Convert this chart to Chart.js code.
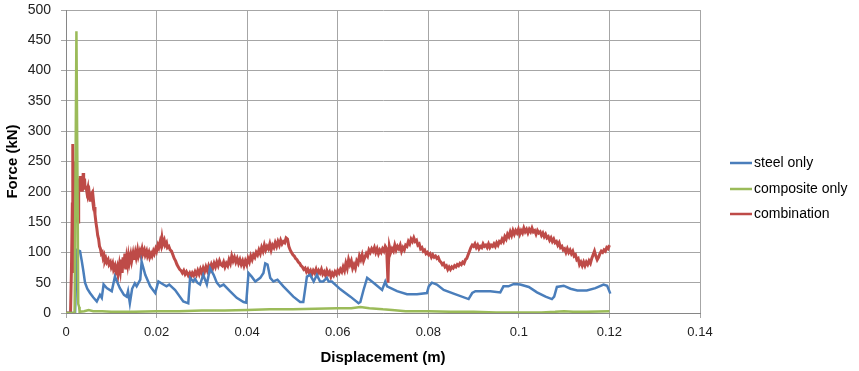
<!DOCTYPE html>
<html>
<head>
<meta charset="utf-8">
<script src="https://cdn.jsdelivr.net/npm/chart.js"></script>
<style>
  html, body { margin: 0; padding: 0; background: #fff; }
  #wrap { width: 859px; height: 371px; position: relative; }
</style>
</head>
<body>
<div id="wrap"><canvas id="mainChart"></canvas></div>
<script>
// axis ticks
const xTicks = [0, 0.02, 0.04, 0.06, 0.08, 0.1, 0.12, 0.14];
const yTicks = [0, 50, 100, 150, 200, 250, 300, 350, 400, 450, 500];

const seriesNames = ['steel only', 'composite only', 'combination'];
const seriesColors = ['#4a7ebb', '#9bbb59', '#be4b48'];

// [displacement (m), force (kN)]
const steelPts = [[0,0],[0.002,0],[0.0024,104],[0.0031,102],[0.0035,85],[0.0038,71],[0.0042,50],[0.0047,40],[0.0053,33],[0.006,26],[0.0068,19],[0.0075,30],[0.0079,25],[0.0083,47],[0.009,41],[0.0101,36],[0.0108,60],[0.0119,41],[0.0128,30],[0.0134,27],[0.0137,36],[0.0141,16],[0.0146,40],[0.0152,49],[0.0156,44],[0.0164,55],[0.0167,85],[0.0175,63],[0.0186,44],[0.0197,33],[0.0204,52],[0.0215,47],[0.0222,44],[0.0228,47],[0.0241,38],[0.0259,19],[0.027,16],[0.0274,58],[0.0281,52],[0.0285,56],[0.029,50],[0.0296,47],[0.0303,63],[0.0311,47],[0.0318,74],[0.0326,63],[0.0333,50],[0.034,44],[0.0348,47],[0.0362,36],[0.0377,25],[0.0392,18],[0.0398,17],[0.0403,66],[0.041,60],[0.0418,52],[0.0429,58],[0.0436,66],[0.044,82],[0.0445,80],[0.0451,58],[0.0458,52],[0.0467,55],[0.048,44],[0.0502,27],[0.0517,18],[0.0524,18],[0.0532,60],[0.0539,63],[0.0547,52],[0.0554,63],[0.0561,52],[0.0568,52],[0.0576,58],[0.058,52],[0.0587,52],[0.0606,39],[0.0628,27],[0.0646,16],[0.065,18],[0.0657,38],[0.0665,58],[0.0679,50],[0.0698,38],[0.0705,52],[0.0709,44],[0.0731,36],[0.0753,31],[0.0775,31],[0.0797,33],[0.0801,44],[0.0808,50],[0.0819,47],[0.0834,38],[0.0856,32],[0.0889,23],[0.0897,33],[0.0904,36],[0.0922,36],[0.0937,36],[0.0959,34],[0.0966,44],[0.0977,44],[0.0989,48],[0.1003,47],[0.1022,43],[0.104,34],[0.1059,27],[0.1073,23],[0.1078,27],[0.1084,43],[0.1099,45],[0.1114,40],[0.1129,37],[0.115,37],[0.1169,41],[0.1187,47],[0.1195,45],[0.1202,32]];

const compositePts = [[0,0],[0.0019,0],[0.0023,465],[0.0026,150],[0.0027,15],[0.0029,10],[0.003,2],[0.004,3],[0.005,5],[0.006,3],[0.008,3],[0.01,2],[0.015,2],[0.02,3],[0.025,3],[0.03,4],[0.035,4],[0.04,5],[0.045,6],[0.05,6],[0.055,7],[0.06,8],[0.063,8],[0.065,10],[0.067,8],[0.07,6],[0.072,5],[0.075,3],[0.08,3],[0.085,2],[0.09,2],[0.095,1],[0.1,1],[0.105,1],[0.108,2],[0.11,3],[0.112,2],[0.115,2],[0.12,3]];

const comboPts = [[0,0],[0.001,0],[0.0012,70],[0.0014,180],[0.0015,279],[0.0016,150],[0.0017,66],[0.0018,250],[0.0019,90],[0.002,235],[0.0021,150],[0.0022,225],[0.0023,160],[0.0024,214],[0.0025,195],[0.0026,222],[0.0027,150],[0.0028,210],[0.003,200],[0.0031,226],[0.0033,205],[0.0035,215],[0.0036,200],[0.0038,231],[0.0039,205],[0.0041,222],[0.0042,206],[0.0044,210],[0.0046,200],[0.0048,206],[0.0049,195],[0.0051,200],[0.0053,186],[0.0055,194],[0.0057,197],[0.0059,185],[0.006,190],[0.0062,175],[0.0064,163],[0.0066,150],[0.0068,140],[0.007,128],[0.0072,122],[0.0074,110],[0.0076,106],[0.0078,98],[0.008,100],[0.0082,91],[0.0084,95],[0.0086,86],[0.0088,90],[0.009,84],[0.0093,88],[0.0095,80],[0.0098,84],[0.01,76],[0.0103,82],[0.0105,72],[0.0108,78],[0.011,68],[0.0113,76],[0.0115,64],[0.0118,80],[0.012,70],[0.0122,88],[0.0124,66],[0.0126,92],[0.0128,74],[0.013,98],[0.0132,72],[0.0134,90],[0.0136,80],[0.0138,94],[0.014,84],[0.0143,96],[0.0145,86],[0.0148,98],[0.015,88],[0.0153,100],[0.0155,92],[0.0158,104],[0.016,94],[0.0163,102],[0.0165,96],[0.0168,106],[0.017,98],[0.0173,104],[0.0175,96],[0.0178,102],[0.018,94],[0.0183,100],[0.0185,92],[0.0188,98],[0.019,94],[0.0193,102],[0.0195,98],[0.0198,106],[0.02,102],[0.0203,112],[0.0205,108],[0.0208,118],[0.021,112],[0.0212,124],[0.0214,114],[0.0217,120],[0.0219,112],[0.0222,116],[0.0224,108],[0.0227,110],[0.023,104],[0.0233,102],[0.0236,96],[0.0239,90],[0.0242,86],[0.0245,80],[0.0248,76],[0.0251,72],[0.0254,70],[0.0257,66],[0.026,70],[0.0263,64],[0.0266,68],[0.027,62],[0.0273,66],[0.0276,60],[0.0279,66],[0.0282,62],[0.0285,68],[0.0288,63],[0.0291,70],[0.0294,64],[0.0297,72],[0.03,66],[0.0303,74],[0.0306,68],[0.0309,76],[0.0312,70],[0.0315,78],[0.0318,72],[0.0321,80],[0.0324,74],[0.0327,82],[0.033,76],[0.0333,84],[0.0336,78],[0.0339,86],[0.0342,80],[0.0345,78],[0.0348,84],[0.0351,76],[0.0354,82],[0.0357,78],[0.036,88],[0.0363,82],[0.0366,94],[0.0369,86],[0.0372,92],[0.0375,84],[0.0378,90],[0.0381,82],[0.0384,88],[0.0387,80],[0.039,86],[0.0393,78],[0.0396,86],[0.0399,80],[0.0402,90],[0.0405,84],[0.0408,94],[0.0411,88],[0.0414,96],[0.0417,92],[0.042,100],[0.0423,96],[0.0426,104],[0.0429,98],[0.0432,108],[0.0435,102],[0.0438,112],[0.0441,104],[0.0444,110],[0.0447,106],[0.045,114],[0.0453,104],[0.0456,112],[0.0459,108],[0.0462,116],[0.0465,110],[0.0468,118],[0.0471,112],[0.0474,120],[0.0477,114],[0.048,118],[0.0483,116],[0.0486,124],[0.0489,122],[0.0492,110],[0.0495,104],[0.0498,100],[0.0501,96],[0.0504,94],[0.0507,90],[0.051,88],[0.0513,84],[0.0516,82],[0.0519,78],[0.0522,76],[0.0525,72],[0.0528,74],[0.0531,68],[0.0534,72],[0.0537,66],[0.054,70],[0.0543,64],[0.0546,70],[0.0549,66],[0.0552,72],[0.0555,64],[0.0558,70],[0.0561,66],[0.0564,72],[0.0567,64],[0.057,68],[0.0573,62],[0.0576,70],[0.0579,64],[0.0582,68],[0.0585,60],[0.0588,66],[0.0591,62],[0.0594,68],[0.0597,64],[0.06,70],[0.0603,66],[0.0606,72],[0.0609,68],[0.0612,76],[0.0615,70],[0.0618,82],[0.0621,74],[0.0624,88],[0.0627,80],[0.063,86],[0.0633,74],[0.0636,80],[0.0639,74],[0.0642,86],[0.0645,82],[0.0648,94],[0.0651,88],[0.0654,96],[0.0657,86],[0.066,92],[0.0663,98],[0.0666,94],[0.0669,104],[0.0672,100],[0.0675,106],[0.0678,102],[0.0681,108],[0.0684,100],[0.0687,106],[0.069,98],[0.0693,104],[0.0696,100],[0.0699,106],[0.0702,102],[0.0705,110],[0.0708,106],[0.071,70],[0.0711,50],[0.0712,80],[0.0714,110],[0.0717,100],[0.072,106],[0.0723,102],[0.0726,112],[0.0729,104],[0.0732,110],[0.0735,106],[0.0738,112],[0.0741,102],[0.0744,108],[0.0747,104],[0.075,112],[0.0753,110],[0.0756,118],[0.0759,114],[0.0762,122],[0.0765,118],[0.0768,124],[0.0771,118],[0.0774,120],[0.0777,112],[0.078,114],[0.0783,106],[0.0786,108],[0.0789,102],[0.0792,104],[0.0795,98],[0.0798,100],[0.0801,96],[0.0804,98],[0.0807,92],[0.081,96],[0.0813,92],[0.0816,94],[0.0819,90],[0.0822,92],[0.0825,86],[0.0828,84],[0.0831,80],[0.0834,82],[0.0837,76],[0.084,78],[0.0843,72],[0.0846,76],[0.0849,72],[0.0852,76],[0.0855,74],[0.0858,78],[0.0861,76],[0.0864,80],[0.0867,78],[0.087,82],[0.0873,80],[0.0876,84],[0.0879,82],[0.0882,88],[0.0885,90],[0.0888,96],[0.0891,102],[0.0894,108],[0.0897,112],[0.09,110],[0.0903,114],[0.0906,108],[0.0909,112],[0.0912,106],[0.0915,110],[0.0918,108],[0.0921,114],[0.0924,110],[0.0927,112],[0.093,108],[0.0933,114],[0.0936,108],[0.0939,112],[0.0942,110],[0.0945,114],[0.0948,110],[0.0951,116],[0.0954,112],[0.0957,118],[0.096,116],[0.0963,122],[0.0966,118],[0.0969,126],[0.0972,122],[0.0975,130],[0.0978,126],[0.0981,134],[0.0984,128],[0.0987,136],[0.099,130],[0.0993,136],[0.0996,132],[0.0999,138],[0.1002,130],[0.1005,136],[0.1008,132],[0.1011,140],[0.1014,134],[0.1017,138],[0.102,132],[0.1023,138],[0.1026,134],[0.1029,140],[0.1032,134],[0.1035,136],[0.1038,130],[0.1041,136],[0.1044,132],[0.1047,134],[0.105,128],[0.1053,132],[0.1056,126],[0.1059,130],[0.1062,124],[0.1065,126],[0.1068,120],[0.1071,124],[0.1074,118],[0.1077,122],[0.108,116],[0.1083,118],[0.1086,112],[0.1089,116],[0.1092,108],[0.1095,110],[0.1098,104],[0.1101,106],[0.1104,100],[0.1107,106],[0.111,100],[0.1113,104],[0.1116,98],[0.1119,102],[0.1122,94],[0.1125,96],[0.1128,88],[0.1131,90],[0.1134,80],[0.1137,84],[0.114,78],[0.1143,84],[0.1146,78],[0.1149,84],[0.1152,80],[0.1155,86],[0.1158,82],[0.1161,90],[0.1164,96],[0.1167,102],[0.117,94],[0.1173,88],[0.1176,92],[0.1179,98],[0.1182,102],[0.1185,100],[0.1188,104],[0.1191,102],[0.1194,108],[0.1197,106],[0.12,112]];

const toXY = pts => pts.map(p => ({x: p[0], y: p[1]}));

// right-hand legend drawn by hand, Excel style
const sideLegend = {
  id: 'sideLegend',
  afterDraw(chart) {
    const ctx = chart.ctx;
    const rows = [163, 189, 214];
    ctx.save();
    ctx.font = '14px "Liberation Sans", Arial, sans-serif';
    ctx.textBaseline = 'middle';
    seriesNames.forEach((name, i) => {
      ctx.strokeStyle = seriesColors[i];
      ctx.lineWidth = 2.5;
      ctx.beginPath();
      ctx.moveTo(730, rows[i]);
      ctx.lineTo(752, rows[i]);
      ctx.stroke();
      ctx.fillStyle = '#000';
      ctx.fillText(name, 754, rows[i]);
    });
    ctx.restore();
  }
};

function plotForceChart() {
  const ctx = document.getElementById('mainChart').getContext('2d');
  const mk = (i, pts, order, w) => ({
    label: seriesNames[i],
    data: toXY(pts),
    showLine: true,
    borderColor: seriesColors[i],
    backgroundColor: seriesColors[i],
    borderWidth: w,
    pointRadius: 0,
    tension: 0,
    order: order
  });
  window.forceChart = new Chart(ctx, {
    type: 'scatter',
    data: {
      datasets: [
        mk(0, steelPts, 1, 2.5),
        mk(1, compositePts, 0, 2.5),
        mk(2, comboPts, 2, 3)
      ]
    },
    options: {
      responsive: true,
      maintainAspectRatio: false,
      animation: false,
      layout: { padding: { left: 0, right: 159, top: 10, bottom: 0 } },
      plugins: { legend: { display: false }, tooltip: { enabled: false } },
      scales: {
        x: {
          type: 'linear',
          min: 0, max: 0.14,
          afterBuildTicks: s => { s.ticks = xTicks.map(v => ({value: v})); },
          afterFit: s => { s.height = 58; s.paddingLeft = 0; s.paddingRight = 0; },
          grid: { color: '#a6a6a6', lineWidth: 1, tickLength: 5 },
          border: { color: '#868686' },
          ticks: {
            color: '#222',
            padding: 7,
            font: { family: '"Liberation Sans", Arial, sans-serif', size: 13 },
            callback: v => String(Number(v.toFixed(2)))
          },
          title: {
            display: true,
            text: 'Displacement (m)',
            color: '#000',
            padding: { top: 4 },
            font: { family: '"Liberation Sans", Arial, sans-serif', size: 15, weight: 'bold' }
          }
        },
        y: {
          type: 'linear',
          min: 0, max: 500,
          afterBuildTicks: s => { s.ticks = yTicks.map(v => ({value: v})); },
          afterFit: s => { s.width = 66; s.paddingTop = 0; s.paddingBottom = 0; },
          grid: { color: '#a6a6a6', lineWidth: 1, tickLength: 5 },
          border: { color: '#868686' },
          ticks: {
            color: '#222',
            padding: 10,
            font: { family: '"Liberation Sans", Arial, sans-serif', size: 14 }
          },
          title: {
            display: true,
            text: 'Force (kN)',
            color: '#000',
            padding: { bottom: 0 },
            font: { family: '"Liberation Sans", Arial, sans-serif', size: 15, weight: 'bold' }
          }
        }
      }
    },
    plugins: [sideLegend]
  });
}
document.addEventListener('DOMContentLoaded', plotForceChart);
</script>
</body>
</html>
